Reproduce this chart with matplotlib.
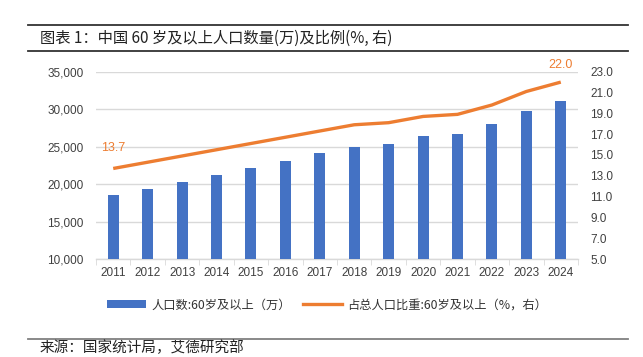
import matplotlib
matplotlib.use("Agg")
import matplotlib.pyplot as plt
from matplotlib.lines import Line2D
from matplotlib.patches import Patch

years = ["2011", "2012", "2013", "2014", "2015", "2016", "2017",
         "2018", "2019", "2020", "2021", "2022", "2023", "2024"]
population = [18499, 19390, 20243, 21242, 22200, 23086, 24090,
              24949, 25388, 26402, 26736, 28004, 29697, 31031]
share = [13.7, 14.3, 14.9, 15.5, 16.1, 16.7, 17.3,
         17.9, 18.1, 18.7, 18.9, 19.8, 21.1, 22.0]
left_ticks = [10000, 15000, 20000, 25000, 30000, 35000]
right_ticks = [5.0, 7.0, 9.0, 11.0, 13.0, 15.0, 17.0, 19.0, 21.0, 23.0]
title = "图表 1：中国 60 岁及以上人口数量(万)及比例(%, 右)"
bar_label = "人口数:60岁及以上（万）"
line_label = "占总人口比重:60岁及以上（%，右）"
source = "来源：国家统计局，艾德研究部"

CJK = ["Noto Sans CJK SC", "DejaVu Sans"]
NUM = ["Liberation Sans", "DejaVu Sans"]
BLUE = "#4472C4"
ORANGE = "#ED7D31"
GRID = "#D9D9D9"
TXT = "#404040"

fig = plt.figure(figsize=(6.43, 3.57), dpi=100)
W, H = 643, 357
ax = fig.add_axes([96 / W, 1 - 259 / H, (578 - 96) / W, (259 - 71.7) / H])
ax2 = ax.twinx()

x = list(range(len(years)))
ax.bar(x, population, width=0.32, color=BLUE, zorder=3)
ax.set_ylim(10000, 35000)
ax.set_yticks(left_ticks)
ax.set_yticklabels([f"{v:,}" for v in left_ticks], fontfamily=NUM, fontsize=8.5, color=TXT)
ax.set_xlim(-0.5, len(years) - 0.5)
ax.set_xticks(x)
ax.set_xticklabels(years, fontfamily=NUM, fontsize=8.5, color=TXT)
ax.set_xticks([i + 0.5 for i in range(-1, len(years))], minor=True)
ax.tick_params(axis="x", which="major", length=0, pad=6)
ax.tick_params(axis="x", which="minor", length=4, color=GRID, direction="out")
ax.tick_params(axis="y", length=0, pad=9)
ax.grid(axis="y", color=GRID, linewidth=1, zorder=0)
ax.set_axisbelow(True)
for s in ["top", "left", "right"]:
    ax.spines[s].set_visible(False)
ax.spines["bottom"].set_color(GRID)
ax.spines["bottom"].set_linewidth(1)

ax2.plot(x, share, color=ORANGE, linewidth=2.4, solid_capstyle="butt", zorder=4)
ax2.set_ylim(5, 23)
ax2.set_yticks(right_ticks)
ax2.set_yticklabels([f"{v:.1f}" for v in right_ticks], fontfamily=NUM, fontsize=8.5, color=TXT)
ax2.tick_params(axis="y", length=0, pad=9)
for s in ["top", "left", "right", "bottom"]:
    ax2.spines[s].set_visible(False)

ax2.annotate(f"{share[0]:.1f}", (x[0], share[0]), xytext=(0, 15), textcoords="offset points",
             ha="center", va="center", color=ORANGE, fontsize=9, fontfamily=NUM)
ax2.annotate(f"{share[-1]:.1f}", (x[-1], share[-1]), xytext=(0, 12), textcoords="offset points",
             ha="center", va="center", color=ORANGE, fontsize=9, fontfamily=NUM)

handles = [Patch(facecolor=BLUE, edgecolor="none"),
           Line2D([0], [0], color=ORANGE, linewidth=2.4)]
fig.legend(handles, [bar_label, line_label], loc="center", bbox_to_anchor=(327 / W, 1 - 305 / H),
           ncol=2, frameon=False, prop={"family": CJK, "size": 8.8}, handlelength=3.2,
           handleheight=0.6, handletextpad=0.4, columnspacing=1.0, labelcolor="#333333")

# rules
for yy, col in [(25, "#333333"), (51, "#333333"), (339, "#808080")]:
    fig.add_artist(Line2D([28 / W, 628 / W], [1 - yy / H, 1 - yy / H], color=col,
                          linewidth=1.3, transform=fig.transFigure))

fig.text(40 / W, 1 - 38 / H, title, fontfamily=CJK, fontsize=11, color="#222222",
         ha="left", va="center")
fig.text(40 / W, 1 - 348 / H, source, fontfamily=CJK, fontsize=10.5, color="#222222",
         ha="left", va="center")

fig.savefig("out.png", dpi=100)
